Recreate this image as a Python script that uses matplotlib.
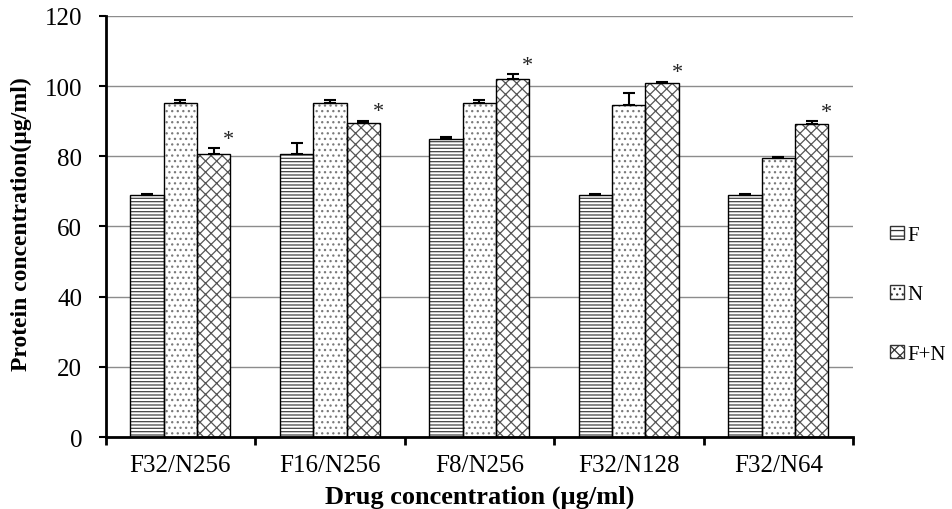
import matplotlib
matplotlib.use('Agg')
import matplotlib.pyplot as plt
from matplotlib.patches import Patch
import numpy as np

plt.rcParams['font.family'] = ['Liberation Serif', 'DejaVu Serif']
plt.rcParams['hatch.linewidth'] = 0.9

# data
groups = ['F32/N256', 'F16/N256', 'F8/N256', 'F32/N128', 'F32/N64']
series = ['F', 'N', 'F+N']
f_vals = [69.0, 80.7, 84.9, 69.0, 69.0]
f_err = [0.3, 3.1, 0.5, 0.3, 0.3]
n_vals = [95.2, 95.1, 95.1, 94.5, 79.6]
n_err = [0.9, 1.0, 1.0, 3.5, 0.3]
fn_vals = [80.5, 89.4, 101.9, 100.8, 89.2]
fn_err = [1.8, 0.7, 1.5, 0.4, 0.8]
significant = [True, True, True, True, True]

values = [f_vals, n_vals, fn_vals]
errors = [f_err, n_err, fn_err]
hatches = ['-----', '...', 'xxx']
hatch_cols = ['#444444', '#7a7a7a', '#555555']

fig = plt.figure(figsize=(9.52, 5.10), dpi=100)
ax = fig.add_axes([0.111, 0.141, 0.785, 0.826])

x = np.arange(len(groups)) + 0.5
w = 0.223

for i, (vals, errs) in enumerate(zip(values, errors)):
    pos = x + (i - 1) * w
    # hatch layer, then black outline on top
    ax.bar(pos, vals, w, color='white', edgecolor=hatch_cols[i],
           hatch=hatches[i], linewidth=0, zorder=2)
    ax.bar(pos, vals, w, fill=False, edgecolor='black', linewidth=1.0, zorder=3)
    ax.errorbar(pos, vals, yerr=[np.zeros(len(errs)), errs], fmt='none',
                ecolor='black', elinewidth=1.5, capsize=4, capthick=1.5, zorder=4)

# significance stars over the F+N bars
for xi, v, e, s in zip(x + w, fn_vals, fn_err, significant):
    if s:
        ax.text(xi + 0.45 * w, v + e + 1.3, '*', ha='center', va='baseline',
                fontsize=16, color='#222222', zorder=5)

ax.set_xlim(0, len(groups))
ax.set_ylim(0, 120)
ax.set_yticks(np.arange(0, 121, 20))
ax.yaxis.grid(True, color='#8c8c8c', linewidth=1.0)
ax.set_axisbelow(True)

ax.set_xticks(np.arange(len(groups) + 1))
ax.set_xticklabels([])
ax.set_xticks(x, minor=True)
ax.set_xticklabels(groups, minor=True, fontsize=18)
ax.tick_params(axis='x', which='major', length=6, width=2, direction='out')
ax.tick_params(axis='x', which='minor', length=0, pad=12)
ax.tick_params(axis='y', length=5, width=1.5, labelsize=18, pad=12)

for side in ['top', 'right']:
    ax.spines[side].set_visible(False)
ax.spines['left'].set_linewidth(2)
ax.spines['bottom'].set_linewidth(2)

fig.text(0.023, 0.56, 'Protein concentration(\u00b5g/ml)', rotation=90,
         ha='center', va='center', fontsize=17, fontweight='bold')
fig.text(0.504, 0.012, 'Drug concentration (\u00b5g/ml)', ha='center',
         va='baseline', fontsize=19, fontweight='bold')

handles = [Patch(facecolor='white', edgecolor='#333333', hatch=hatches[i][:3],
                 linewidth=1.0) for i in range(3)]
fig.legend(handles, series, loc='center left',
           bbox_to_anchor=(0.926, 0.42), frameon=False, fontsize=15,
           handlelength=0.7, handleheight=0.6, handletextpad=0.15,
           labelspacing=1.95, borderaxespad=0)

fig.savefig('out.png', dpi=100)
plt.close(fig)
